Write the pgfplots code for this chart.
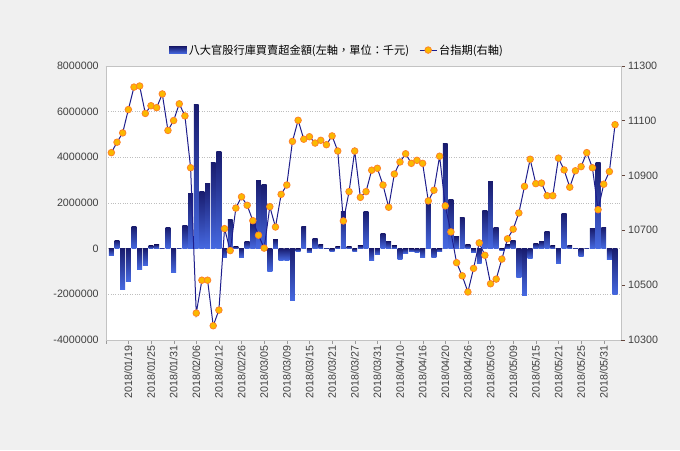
\documentclass[border=0pt]{standalone}
\usepackage{fontspec}
\setmainfont{Liberation Sans}
\newfontfamily\cjk{Noto Sans CJK TC}
\usepackage{pgfplots}
\usepackage{pgfplotstable}
\pgfplotsset{compat=1.18}
\definecolor{bg}{RGB}{240,240,240}
\definecolor{navy}{RGB}{25,28,110}
\definecolor{lblue}{RGB}{70,105,225}
\definecolor{linec}{RGB}{30,30,140}
\definecolor{mfill}{RGB}{250,185,0}
\definecolor{medge}{RGB}{255,130,40}
\definecolor{gridc}{RGB}{190,190,190}
\definecolor{axc}{RGB}{195,195,195}
\definecolor{labc}{RGB}{64,64,64}
\definecolor{rtick}{RGB}{100,70,60}

\pgfplotstableread{
x y
0 -300000
1 350000
2 -1790000
3 -1440000
4 960000
5 -900000
6 -740000
7 130000
8 170000
9 40000
10 920000
11 -1030000
12 40000
13 1000000
14 2420000
15 6300000
16 2490000
17 2860000
18 3780000
19 4240000
20 -380000
21 1270000
22 90000
23 -380000
24 310000
25 1180000
26 2970000
27 2800000
28 -1000000
29 390000
30 -510000
31 -510000
32 -2260000
33 -120000
34 960000
35 -160000
36 440000
37 170000
38 40000
39 -120000
40 90000
41 1620000
42 90000
43 -120000
44 130000
45 1620000
46 -510000
47 -250000
48 660000
49 310000
50 130000
51 -470000
52 -200000
53 -120000
54 -160000
55 -380000
56 2030000
57 -410000
58 -120000
59 4590000
60 2140000
61 520000
62 1360000
63 170000
64 -160000
65 -640000
66 1660000
67 2930000
68 920000
69 -70000
70 170000
71 350000
72 -1250000
73 -2040000
74 -420000
75 220000
76 310000
77 740000
78 130000
79 -640000
80 1530000
81 130000
82 40000
83 -340000
84 40000
85 870000
86 3760000
87 920000
88 -470000
89 -2030000
}\bars

\pgfplotstableread{
x y
0 10983
1 11021
2 11055
3 11140
4 11222
5 11226
6 11126
7 11154
8 11147
9 11197
10 11064
11 11100
12 11161
13 11117
14 10928
15 10398
16 10518
17 10518
18 10352
19 10409
20 10706
21 10626
22 10781
23 10822
24 10791
25 10735
26 10682
27 10635
28 10786
29 10712
30 10831
31 10865
32 11024
33 11101
34 11032
35 11041
36 11018
37 11028
38 11012
39 11044
40 10989
41 10734
42 10841
43 10989
44 10820
45 10841
46 10919
47 10926
48 10865
49 10784
50 10905
51 10949
52 10979
53 10944
54 10955
55 10944
56 10807
57 10846
58 10970
59 10789
60 10694
61 10582
62 10534
63 10475
64 10561
65 10654
66 10609
67 10505
68 10522
69 10595
70 10669
71 10704
72 10763
73 10860
74 10959
75 10870
76 10872
77 10826
78 10826
79 10963
80 10920
81 10857
82 10917
83 10932
84 10983
85 10928
86 10775
87 10868
88 10914
89 11085
}\taiex

\begin{document}
\begin{tikzpicture}
\fill[bg] (0pt,0pt) rectangle (680pt,450pt);
\useasboundingbox (0pt,0pt) rectangle (680pt,450pt);
\begin{axis}[
  at={(105.7pt,110pt)}, anchor=south west,
  scale only axis, width=515pt, height=274.3pt,
  xmin=-1, xmax=90, ymin=-4000000, ymax=8000000,
  ybar, bar width=4.9pt,
  axis background/.style={fill=white},
  axis line style={draw=axc},
  scaled y ticks=false,
  ytick={-4000000,-2000000,0,2000000,4000000,6000000,8000000},
  yticklabel style={/pgf/number format/fixed, /pgf/number format/1000 sep={},
    /pgf/number format/assume math mode=true,
    font=\fontsize{10.7}{12}\selectfont, text=labc},
  ytick style={draw=none},
  ytick pos=left,
  ymajorgrids, grid style={gridc, dotted},
  xtick={-1,3,...,87},
  xticklabels={{},2018/01/19,2018/01/25,2018/01/31,2018/02/06,2018/02/12,2018/02/26,2018/03/05,2018/03/09,2018/03/15,2018/03/21,2018/03/27,2018/03/31,2018/04/10,2018/04/16,2018/04/20,2018/04/26,2018/05/03,2018/05/09,2018/05/15,2018/05/21,2018/05/25,2018/05/31},
  xticklabel style={rotate=90, anchor=east, font=\fontsize{10.7}{12}\selectfont, text=labc, inner sep=1.5pt},
  xtick pos=bottom,
  xtick style={draw=gray!80},
  tick align=outside, major tick length=3.5pt,
]
\pgfplotsinvokeforeach{0,...,89}{
  \addplot[draw=none, top color=navy, bottom color=lblue, bar shift=0pt,
    restrict expr to domain={\coordindex}{#1:#1}] table[x=x,y=y] {\bars};
}
\end{axis}
\begin{axis}[
  at={(105.7pt,110pt)}, anchor=south west,
  scale only axis, width=515pt, height=274.3pt,
  xmin=-1, xmax=90, ymin=10300, ymax=11300,
  axis y line*=right, axis x line=none,
  axis line style={draw=axc},
  scaled y ticks=false,
  ytick={10300,10500,10700,10900,11100,11300},
  yticklabel style={/pgf/number format/fixed, /pgf/number format/1000 sep={},
    /pgf/number format/assume math mode=true,
    font=\fontsize{10.7}{12}\selectfont, text=labc},
  ytick style={draw=rtick},
  tick align=outside, major tick length=4pt,
  legend columns=2,
  legend cell align=left,
  legend style={at={(axis description cs:0.449,1.057)}, anchor=center,
    draw=none, fill=none, font=\cjk\fontsize{11.2}{13}\selectfont,
    /tikz/every even column/.append style={column sep=8pt}},
]
\addlegendimage{legend image code/.code={\path[draw=none, top color=navy, bottom color=lblue] (0pt,-3.5pt) rectangle (17.7pt,3.5pt);}}
\addlegendentry{八大官股行庫買賣超金額(左軸，單位：千元)}
\addplot[linec, line width=1pt, mark=*, mark size=3.3pt,
  mark options={fill=mfill, draw=medge, line width=0.8pt}] table[x=x,y=y] {\taiex};
\addlegendentry{台指期(右軸)}
\end{axis}
\end{tikzpicture}
\end{document}
